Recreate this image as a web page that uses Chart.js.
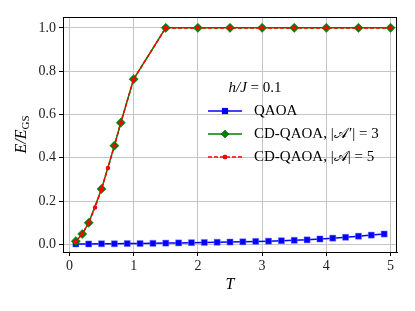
<!DOCTYPE html>
<html>
<head>
<meta charset="utf-8">
<script src="https://cdn.jsdelivr.net/npm/chart.js@4/dist/chart.umd.min.js"></script>
<style>
  html, body { margin: 0; padding: 0; background: #fff; }
  #wrap { width: 415px; height: 311px; position: relative; }
</style>
</head>
<body>
<div id="wrap"><canvas id="c" width="415" height="311"></canvas></div>
<script>
// ---- data ----
const qaoaT = [0.1,0.3,0.5,0.7,0.9,1.1,1.3,1.5,1.7,1.9,2.1,2.3,2.5,2.7,2.9,3.1,3.3,3.5,3.7,3.9,4.1,4.3,4.5,4.7,4.9];
const qaoaE = [0.002,0.002,0.003,0.003,0.004,0.004,0.005,0.006,0.007,0.008,0.009,0.010,0.011,0.012,0.014,0.015,0.017,0.019,0.021,0.025,0.029,0.033,0.038,0.043,0.048];
const cd3T = [0.1,0.2,0.3,0.5,0.7,0.8,1.0,1.5,2.0,2.5,3.0,3.5,4.0,4.5,5.0];
const cd3E = [0.015,0.048,0.100,0.256,0.456,0.562,0.763,1.0,1.0,1.0,1.0,1.0,1.0,1.0,1.0];
const cd5T = [0.1,0.2,0.3,0.4,0.5,0.6,0.7,0.8,1.0,1.5,2.0,2.5,3.0,3.5,4.0,4.5,5.0];
const cd5E = [0.015,0.048,0.100,0.171,0.256,0.353,0.456,0.562,0.763,1.0,1.0,1.0,1.0,1.0,1.0,1.0,1.0];
const xTicks = [0,1,2,3,4,5];
const yTicks = [0.0,0.2,0.4,0.6,0.8,1.0];
const legendTitle = ['h/J', ' = 0.1'];
const labels = ['QAOA', 'CD-QAOA, |\u{1D49C}\u200A\u2032| = 3', 'CD-QAOA, |\u{1D49C}| = 5'];

const toXY = (xs, ys) => xs.map((x, i) => ({x: x, y: ys[i]}));
const SERIF = '"Liberation Serif", "DejaVu Serif", serif';

const framePlugin = {
  id: 'frame',
  afterDatasetsDraw(chart) {
    const {ctx, chartArea: a} = chart;
    ctx.save();
    ctx.strokeStyle = '#000';
    ctx.lineWidth = 1;
    ctx.strokeRect(Math.round(a.left) + 0.5, Math.round(a.top) + 0.5,
                   Math.round(a.right - a.left) - 1, Math.round(a.bottom - a.top));
    ctx.restore();
  },
  afterDraw(chart) {
    const ctx = chart.ctx;
    const a = chart.chartArea;
    ctx.save();
    ctx.fillStyle = '#000';
    // x label
    ctx.font = 'italic 16px ' + SERIF;
    ctx.textAlign = 'center';
    ctx.textBaseline = 'middle';
    ctx.fillText('T', (a.left + a.right) / 2, 285);
    // y label
    ctx.translate(20, (a.top + a.bottom) / 2);
    ctx.rotate(-Math.PI / 2);
    ctx.textBaseline = 'alphabetic';
    ctx.textAlign = 'left';
    ctx.font = 'italic 16px ' + SERIF;
    const p1 = 'E/E';
    const w1 = ctx.measureText(p1).width;
    ctx.font = '11px ' + SERIF;
    const w2 = ctx.measureText('GS').width;
    const start = -(w1 + w2) / 2;
    ctx.font = 'italic 16px ' + SERIF;
    ctx.fillText(p1, start, 6);
    ctx.font = '11px ' + SERIF;
    ctx.fillText('GS', start + w1, 9);
    ctx.restore();

    // legend
    ctx.save();
    const ds = chart.data.datasets;
    ctx.textBaseline = 'middle';
    ctx.font = 'italic 15px ' + SERIF;
    const t1w = ctx.measureText(legendTitle[0]).width;
    ctx.font = '15px ' + SERIF;
    const t2w = ctx.measureText(legendTitle[1]).width;
    let tx = 255 - (t1w + t2w) / 2;
    ctx.font = 'italic 15px ' + SERIF;
    ctx.textAlign = 'left';
    ctx.fillText(legendTitle[0], tx, 88);
    ctx.font = '15px ' + SERIF;
    ctx.fillText(legendTitle[1], tx + t1w, 88);
    const rows = [111, 134, 157];
    const order = [0, 1, 2];
    order.forEach((di, k) => {
      const d = ds[di];
      const y = rows[k];
      ctx.save();
      ctx.strokeStyle = d.borderColor;
      ctx.lineWidth = d.borderWidth;
      ctx.setLineDash(d.borderDash || []);
      ctx.beginPath();
      ctx.moveTo(208, y);
      ctx.lineTo(242, y);
      ctx.stroke();
      ctx.setLineDash([]);
      Chart.helpers.drawPoint(ctx, {
        pointStyle: d.pointStyle, radius: d.legendRadius, borderWidth: 0
      }, 225, y);
      ctx.fillStyle = d.pointBackgroundColor;
      ctx.fill();
      ctx.restore();
      ctx.fillStyle = '#000';
      ctx.font = '15px ' + SERIF;
      ctx.fillText(d.label, 254, y);
    });
    ctx.restore();
  }
};

new Chart(document.getElementById('c'), {
  type: 'scatter',
  data: {
    datasets: [
      {
        label: labels[0],
        data: toXY(qaoaT, qaoaE),
        showLine: true,
        borderColor: '#0000ff',
        borderWidth: 1.5,
        pointStyle: 'rect',
        pointRadius: 4.3,
        legendRadius: 4.3,
        pointBackgroundColor: '#0000ff',
        pointBorderColor: 'rgba(120,120,255,0.6)',
        pointBorderWidth: 0.8,
        order: 3
      },
      {
        label: labels[1],
        data: toXY(cd3T, cd3E),
        showLine: true,
        borderColor: '#008000',
        borderWidth: 1.5,
        pointStyle: 'rectRot',
        pointRadius: 4.6,
        legendRadius: 4,
        pointBackgroundColor: '#008000',
        pointBorderColor: '#008000',
        pointBorderWidth: 0.5,
        order: 2
      },
      {
        label: labels[2],
        data: toXY(cd5T, cd5E),
        showLine: true,
        borderColor: '#ff0000',
        borderWidth: 1.6,
        borderDash: [4, 2],
        pointStyle: 'circle',
        pointRadius: 2.2,
        legendRadius: 2.2,
        pointBackgroundColor: '#ff0000',
        pointBorderColor: '#ff0000',
        pointBorderWidth: 0,
        order: 1
      }
    ]
  },
  options: {
    responsive: false,
    animation: false,
    events: [],
    layout: { padding: { left: 0, right: 18, top: 17, bottom: 0 } },
    plugins: { legend: { display: false }, tooltip: { enabled: false } },
    scales: {
      x: {
        type: 'linear',
        min: -0.1, max: 5.1,
        afterBuildTicks: (s) => { s.ticks = xTicks.map(v => ({value: v})); },
        ticks: {
          color: '#222',
          font: { family: SERIF, size: 14 },
          padding: 2,
          maxRotation: 0,
          callback: (v) => String(v)
        },
        grid: { color: '#c4c4c4', lineWidth: 1, tickColor: '#000', tickLength: 4 },
        border: { display: true, color: '#000' },
        afterFit: (s) => { s.height = 59; }
      },
      y: {
        type: 'linear',
        min: -0.035, max: 1.05,
        afterBuildTicks: (s) => { s.ticks = yTicks.map(v => ({value: v})); },
        ticks: {
          color: '#222',
          font: { family: SERIF, size: 14 },
          padding: 3,
          callback: (v) => v.toFixed(1)
        },
        grid: { color: '#c4c4c4', lineWidth: 1, tickColor: '#000', tickLength: 4 },
        border: { display: true, color: '#000' },
        afterFit: (s) => { s.width = 63; }
      }
    }
  },
  plugins: [framePlugin]
});
</script>
</body>
</html>
